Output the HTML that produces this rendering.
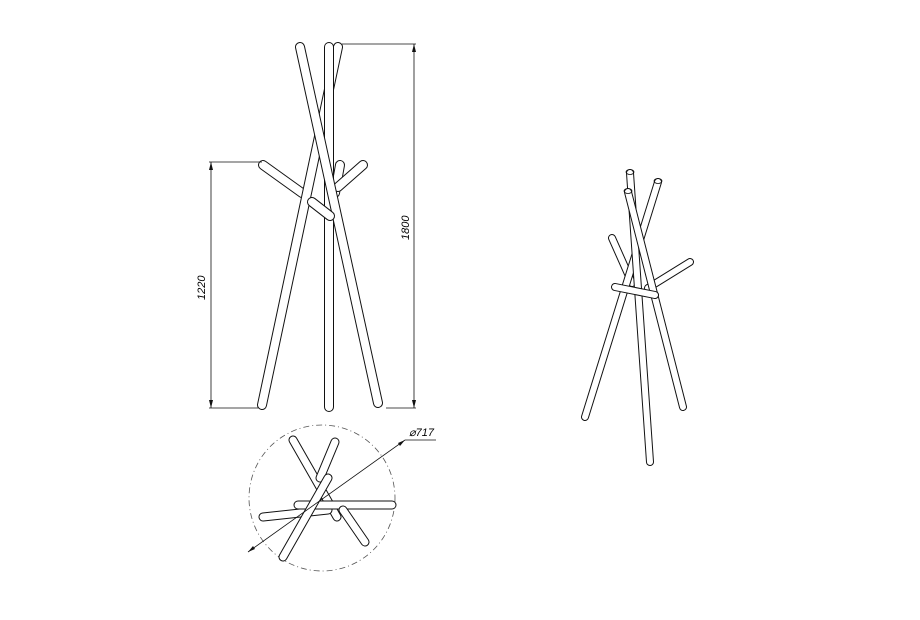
<!DOCTYPE html>
<html><head><style>body{margin:0;background:#fff}svg{display:block}</style></head><body>
<svg width="920" height="620" viewBox="0 0 920 620" xmlns="http://www.w3.org/2000/svg" font-family="Liberation Sans, sans-serif">
<defs>
<style>
.o{stroke:#111;stroke-linecap:round;fill:none}
.i{stroke:#fff;stroke-linecap:round;fill:none}
.d{stroke:#111;stroke-width:0.8;fill:none}
.a{stroke-width:10}.b{stroke-width:8}
.c{stroke-width:9}.e{stroke-width:7}
.f{stroke-width:8}.g{stroke-width:6}
</style>
<line id="r1" x1="263" y1="165" x2="302" y2="193"/>
<line id="r2" x1="340" y1="165" x2="335" y2="193"/>
<line id="r3" x1="363" y1="165" x2="338" y2="187"/>
<line id="r4" x1="338" y1="47" x2="262" y2="405"/>
<line id="r5" x1="329" y1="47" x2="329" y2="407"/>
<line id="r6" x1="300" y1="47" x2="378" y2="403"/>
<line id="r7" x1="312" y1="202" x2="330" y2="216"/>
<line id="t1" x1="293" y1="440" x2="337" y2="517"/>
<line id="t2" x1="335" y1="442" x2="320" y2="478"/>
<line id="t3" x1="263" y1="517" x2="328" y2="510"/>
<line id="t4" x1="298" y1="505" x2="392" y2="505"/>
<line id="t5" x1="328" y1="478" x2="283" y2="557"/>
<line id="t6" x1="343" y1="510" x2="365" y2="542"/>
<line id="s1" x1="612" y1="238" x2="632" y2="283"/>
<line id="s2" x1="690" y1="262" x2="648" y2="288"/>
<line id="s3" x1="658" y1="182" x2="585" y2="417"/>
<line id="s4" x1="630" y1="173" x2="650" y2="462"/>
<line id="s5" x1="628" y1="192" x2="683" y2="407"/>
<line id="s6" x1="615" y1="287" x2="655" y2="295"/>
</defs>
<rect width="920" height="620" fill="#fff"/>
<!-- Front view -->
<g>
<use href="#r1" class="o a"/><use href="#r1" class="i b"/>
<use href="#r2" class="o a"/><use href="#r2" class="i b"/>
<use href="#r3" class="o a"/><use href="#r3" class="i b"/>
<use href="#r4" class="o a"/><use href="#r4" class="i b"/>
<use href="#r5" class="o a"/><use href="#r5" class="i b"/>
<use href="#r6" class="o a"/><use href="#r6" class="i b"/>
<use href="#r7" class="o a"/><use href="#r7" class="i b"/>
<path class="d" d="M342 44H416M414 44V408M386 408H416"/>
<path d="M414 44l-2 8h4z M414 408l-2-8h4z" fill="#111"/>
<text font-size="11" font-style="italic" transform="translate(409,240) rotate(-90)">1800</text>
<path class="d" d="M209 162H262M211 162V408M209 408H258"/>
<path d="M211 162l-2 8h4z M211 408l-2-8h4z" fill="#111"/>
<text font-size="11" font-style="italic" transform="translate(205,300) rotate(-90)">1220</text>
</g>
<!-- Top view -->
<g>
<circle cx="322" cy="498" r="73" fill="none" stroke="#555" stroke-width="0.8" stroke-dasharray="6 3 1 3"/>
<use href="#t1" class="o c"/><use href="#t1" class="i e"/>
<use href="#t2" class="o c"/><use href="#t2" class="i e"/>
<use href="#t3" class="o c"/><use href="#t3" class="i e"/>
<use href="#t4" class="o c"/><use href="#t4" class="i e"/>
<use href="#t5" class="o c"/><use href="#t5" class="i e"/>
<use href="#t6" class="o c"/><use href="#t6" class="i e"/>
<path class="d" d="M248 552L405 440H436"/>
<path d="M405 440l-7 3 2 3z M248 552l7-3-2-3z" fill="#111"/>
<text x="409" y="436" font-size="11" font-style="italic">⌀717</text>
</g>
<!-- Iso view -->
<g>
<use href="#s1" class="o f"/><use href="#s1" class="i g"/>
<use href="#s2" class="o f"/><use href="#s2" class="i g"/>
<use href="#s3" class="o f"/><use href="#s3" class="i g"/>
<use href="#s4" class="o f"/><use href="#s4" class="i g"/>
<use href="#s5" class="o f"/><use href="#s5" class="i g"/>
<use href="#s6" class="o f"/><use href="#s6" class="i g"/>
<g fill="none" stroke="#111" stroke-width="0.8">
<ellipse cx="630" cy="172" rx="4" ry="2.5"/>
<ellipse cx="658" cy="181" rx="4" ry="2.5"/>
<ellipse cx="628" cy="191" rx="4" ry="2.5"/>
</g>
</g>
</svg>
</body></html>
